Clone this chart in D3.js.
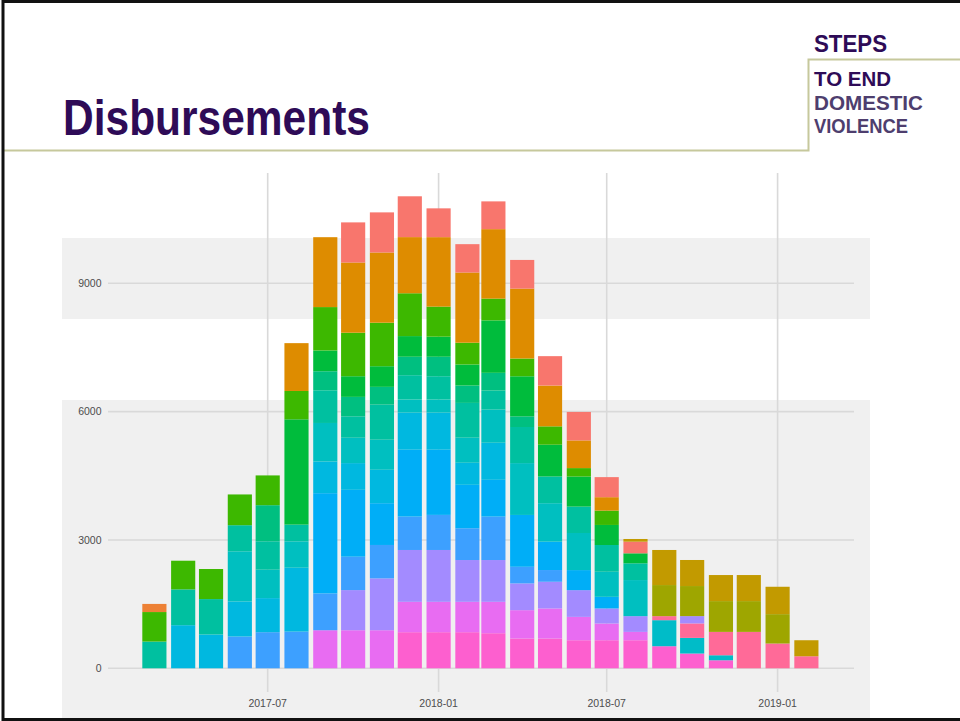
<!DOCTYPE html>
<html>
<head>
<meta charset="utf-8">
<script src="https://cdn.jsdelivr.net/npm/d3@7"></script>
<style>
  body { margin: 0; background: #fff; }
  svg { display: block; }
</style>
</head>
<body>
<svg id="slide"></svg>
<script>
// slide size
const W = 960;
const H = 721;

// months of the bars (first of month)
const months = ['2017-03', '2017-04', '2017-05', '2017-06', '2017-07', '2017-08',
  '2017-09', '2017-10', '2017-11', '2017-12', '2018-01', '2018-02',
  '2018-03', '2018-04', '2018-05', '2018-06', '2018-07', '2018-08',
  '2018-09', '2018-10', '2018-11', '2018-12', '2019-01', '2019-02'];

// stack groups, top of the bar first
const groups = ['g01', 'g02', 'g03', 'g04', 'g05', 'g06', 'g07', 'g08', 'g09',
  'g10', 'g11', 'g12', 'g13', 'g14', 'g15', 'g16', 'g17', 'g18'];

// disbursements per group, one value per month
const g01 = [0, 0, 0, 0, 0, 0, 0, 0, 0, 0, 0, 0, 0, 0, 0, 0, 0, 63, 820, 609, 609, 609, 640, 375];
const g02 = [0, 0, 0, 0, 0, 0, 0, 0, 0, 0, 0, 0, 0, 0, 0, 0, 0, 0, 727, 703, 720, 720, 687, 0];
const g03 = [0, 0, 0, 0, 0, 0, 0, 938, 938, 954, 673, 663, 649, 670, 687, 666, 469, 272, 0, 0, 0, 0, 0, 0];
const g04 = [190, 0, 0, 0, 0, 0, 0, 0, 0, 0, 0, 0, 0, 0, 0, 0, 0, 0, 0, 0, 0, 0, 0, 0];
const g05 = [0, 0, 0, 0, 0, 1118, 1634, 1641, 1641, 1313, 1624, 1641, 1624, 1634, 954, 647, 314, 0, 0, 0, 0, 0, 0, 0];
const g06 = [690, 670, 703, 719, 696, 663, 1015, 1017, 1017, 1001, 703, 509, 509, 415, 429, 197, 335, 0, 0, 0, 0, 0, 0, 0];
const g07 = [0, 0, 0, 0, 0, 2461, 485, 483, 483, 483, 469, 492, 1226, 938, 743, 703, 469, 234, 0, 0, 0, 0, 0, 0];
const g08 = [0, 0, 0, 0, 844, 0, 445, 455, 415, 431, 455, 406, 415, 248, 0, 0, 0, 0, 0, 0, 0, 0, 0, 0];
const g09 = [625, 837, 828, 610, 664, 391, 764, 500, 820, 570, 546, 813, 445, 844, 624, 617, 625, 391, 0, 0, 0, 0, 0, 0];
const g10 = [0, 0, 0, 1172, 664, 617, 900, 593, 703, 305, 305, 586, 774, 1212, 900, 867, 586, 844, 0, 0, 0, 0, 0, 0];
const g11 = [0, 1008, 790, 820, 797, 1493, 741, 625, 781, 867, 867, 516, 867, 0, 0, 0, 0, 0, 0, 0, 0, 0, 0, 0];
const g12 = [0, 0, 0, 0, 0, 0, 2344, 1563, 977, 1563, 1524, 1015, 860, 1212, 663, 469, 272, 0, 0, 0, 0, 0, 0, 0];
const g13 = [0, 0, 0, 743, 844, 858, 860, 781, 781, 781, 820, 743, 1015, 389, 274, 0, 0, 0, 0, 0, 0, 0, 0, 0];
const g14 = [0, 0, 0, 0, 0, 0, 0, 938, 1212, 1212, 1212, 977, 977, 625, 624, 625, 352, 368, 0, 171, 0, 0, 0, 0];
const g15 = [0, 0, 0, 0, 0, 0, 890, 890, 890, 710, 710, 710, 734, 663, 703, 546, 391, 195, 0, 0, 0, 0, 0, 0];
const g16 = [0, 0, 0, 0, 0, 0, 0, 0, 0, 0, 0, 0, 0, 0, 0, 0, 0, 0, 94, 338, 546, 851, 579, 281];
const g17 = [0, 0, 0, 0, 0, 0, 0, 0, 0, 0, 0, 0, 0, 0, 0, 0, 0, 0, 609, 366, 117, 0, 0, 0];
const g18 = [0, 0, 0, 0, 0, 0, 0, 0, 0, 844, 844, 844, 820, 696, 696, 656, 656, 656, 516, 345, 188, 0, 0, 0];

const yTicks = [0, 3000, 6000, 9000];
const xTicks = ['2017-07', '2018-01', '2018-07', '2019-01'];

// colours, same order as groups
const palette = ['#C29A00', '#9EA600', '#F8766D', '#ED8135', '#DE8C00', '#3DB800',
  '#00BC3C', '#00BF80', '#00C0A0', '#00BFC0', '#00B8E0', '#00AEF7',
  '#3DA0FF', '#A38BFF', '#E86CF2', '#FF6A98', '#00BCC8', '#FD5FCF'];

const series = [g01, g02, g03, g04, g05, g06, g07, g08, g09, g10, g11, g12,
  g13, g14, g15, g16, g17, g18];

const parseMonth = d3.timeParse('%Y-%m');

// one row per month for d3.stack
const rows = months.map((m, i) => {
  const row = {date: parseMonth(m)};
  groups.forEach((g, j) => { row[g] = series[j][i]; });
  return row;
});

const color = d3.scaleOrdinal().domain(groups).range(palette);

const svg = d3.select('#slide')
  .attr('width', W)
  .attr('height', H)
  .style('font-family', '"Liberation Sans", Arial, sans-serif');

svg.append('rect').attr('width', W).attr('height', H).attr('fill', '#fff');

// scales, picked so the gridlines land on the reference
const x = d3.scaleTime()
  .domain([parseMonth('2017-07'), parseMonth('2019-01')])
  .range([267.7, 777.6]);
const y = d3.scaleLinear()
  .domain([0, 9000])
  .range([668.3, 283.3]);

// panel background, broken by a white band as in the picture
const panel = svg.append('g');
panel.append('rect')
  .attr('x', 62).attr('y', 238).attr('width', 808).attr('height', 81)
  .attr('fill', '#F0F0F0');
panel.append('rect')
  .attr('x', 62).attr('y', 400).attr('width', 808).attr('height', 318)
  .attr('fill', '#F0F0F0');

// gridlines
svg.append('g')
  .selectAll('line')
  .data(xTicks)
  .join('line')
  .attr('x1', d => x(parseMonth(d)))
  .attr('x2', d => x(parseMonth(d)))
  .attr('y1', 173)
  .attr('y2', 692)
  .attr('stroke', '#D9D9D9')
  .attr('stroke-width', 1.6);

svg.append('g')
  .selectAll('line')
  .data(yTicks)
  .join('line')
  .attr('x1', 108)
  .attr('x2', 854)
  .attr('y1', d => y(d))
  .attr('y2', d => y(d))
  .attr('stroke', '#D9D9D9')
  .attr('stroke-width', 1.6);

// stacked bars, first group on top
const stack = d3.stack().keys(groups.slice().reverse());
const layers = stack(rows);

const barDays = 26.5;
function barW(d) {
  return x(d3.timeDay.offset(d, barDays)) - x(d);
}

svg.append('g')
  .selectAll('g')
  .data(layers)
  .join('g')
  .attr('fill', d => color(d.key))
  .selectAll('rect')
  .data(d => d.filter(s => s[1] > s[0]))
  .join('rect')
  .attr('x', d => x(d.data.date) - barW(d.data.date) / 2)
  .attr('width', d => barW(d.data.date))
  .attr('y', d => y(d[1]))
  .attr('height', d => y(d[0]) - y(d[1]));

// tick labels
svg.append('g')
  .selectAll('text')
  .data(yTicks)
  .join('text')
  .attr('x', 101.5)
  .attr('y', d => y(d) + 3.8)
  .attr('text-anchor', 'end')
  .attr('font-size', 10.5)
  .attr('fill', '#4D4D4D')
  .text(d => d);

svg.append('g')
  .selectAll('text')
  .data(xTicks)
  .join('text')
  .attr('x', d => x(parseMonth(d)))
  .attr('y', 707)
  .attr('text-anchor', 'middle')
  .attr('font-size', 10.5)
  .attr('fill', '#4D4D4D')
  .text(d => d);

// slide header
svg.append('text')
  .attr('x', 63)
  .attr('y', 135)
  .attr('font-size', 50)
  .attr('font-weight', 'bold')
  .attr('fill', '#2E0B57')
  .attr('textLength', 307)
  .attr('lengthAdjust', 'spacingAndGlyphs')
  .text('Disbursements');

const rule = '#C6C89C';
svg.append('path')
  .attr('d', 'M3,150.5 H808.5 V59.5 H960')
  .attr('fill', 'none')
  .attr('stroke', rule)
  .attr('stroke-width', 2);

// logo text
const logo = [
  {t: 'STEPS', y: 52, size: 24, w: 73, c: '#2E0B57'},
  {t: 'TO END', y: 85.7, size: 20, w: 77, c: '#2E0B57'},
  {t: 'DOMESTIC', y: 110, size: 20, w: 109, c: '#4E3E6E'},
  {t: 'VIOLENCE', y: 133.3, size: 20, w: 94, c: '#4E3E6E'}
];
svg.append('g')
  .selectAll('text')
  .data(logo)
  .join('text')
  .attr('x', 814)
  .attr('y', d => d.y)
  .attr('font-size', d => d.size)
  .attr('font-weight', 'bold')
  .attr('fill', d => d.c)
  .attr('textLength', d => d.w)
  .attr('lengthAdjust', 'spacingAndGlyphs')
  .text(d => d.t);

// slide frame
svg.append('rect')
  .attr('x', 3)
  .attr('y', 1.5)
  .attr('width', 1000)
  .attr('height', 718)
  .attr('fill', 'none')
  .attr('stroke', '#111')
  .attr('stroke-width', 3);
</script>
</body>
</html>
